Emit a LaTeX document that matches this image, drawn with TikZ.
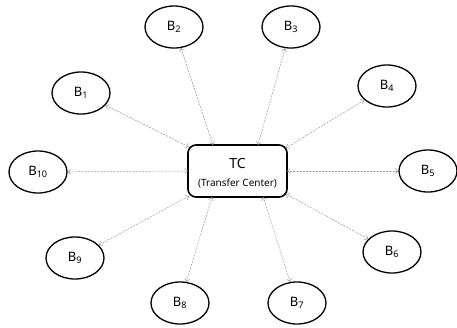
\documentclass[tikz,border=0pt]{standalone}
\usepackage{fontspec}
\setmainfont{Noto Sans}
\usetikzlibrary{shapes.geometric,arrows.meta}
\begin{document}
\begin{tikzpicture}[x=1pt,y=-1pt,
  branch/.style={ellipse,draw=black,line width=1.3pt,minimum width=58pt,minimum height=42pt,inner sep=0pt,font=\fontsize{13}{15}\selectfont},
  center/.style={draw=black,line width=1.6pt,rounded corners=8pt,minimum width=99pt,minimum height=52pt,inner sep=0pt,align=center},
  link/.style={draw=gray!80,line width=0.5pt,dash pattern=on 2pt off 1.2pt,{Straight Barb[length=3pt,width=5pt]}-{Straight Barb[length=3pt,width=5pt]}}
]
\useasboundingbox (0,0) rectangle (457,327);
\fill[white] (0,0) rectangle (457,327);

% transfer center
\node[center] (tc) at (237.5,171) {};
\node[font=\fontsize{14}{16}\selectfont] (tct) at (237.5,163) {TC};
\node[font=\fontsize{10}{12}\selectfont] (tcs) at (237.5,183) {(Transfer Center)};

% branches
\node[branch] (b1) at (81,93) {B\textsubscript{1}};
\node[branch] (b2) at (174,27) {B\textsubscript{2}};
\node[branch] (b3) at (291,27) {B\textsubscript{3}};
\node[branch] (b4) at (387,86) {B\textsubscript{4}};
\node[branch] (b5) at (428,171) {B\textsubscript{5}};
\node[branch] (b6) at (392,252) {B\textsubscript{6}};
\node[branch] (b7) at (297,303) {B\textsubscript{7}};
\node[branch] (b8) at (180,303) {B\textsubscript{8}};
\node[branch] (b9) at (75,258) {B\textsubscript{9}};
\node[branch] (b10) at (38,172) {B\textsubscript{10}};

% attachment points on the center box
\coordinate (p1) at (189,147);
\coordinate (p2) at (213,145);
\coordinate (p3) at (258,145);
\coordinate (p4) at (286,148);
\coordinate (p5) at (287,171);
\coordinate (p6) at (286,194);
\coordinate (p7) at (263,197);
\coordinate (p8) at (212,197);
\coordinate (p9) at (189,196);
\coordinate (p10) at (188,171);

% links
\foreach \i in {1,...,10}
  \draw[link] (b\i) -- (p\i);
\end{tikzpicture}
\end{document}
